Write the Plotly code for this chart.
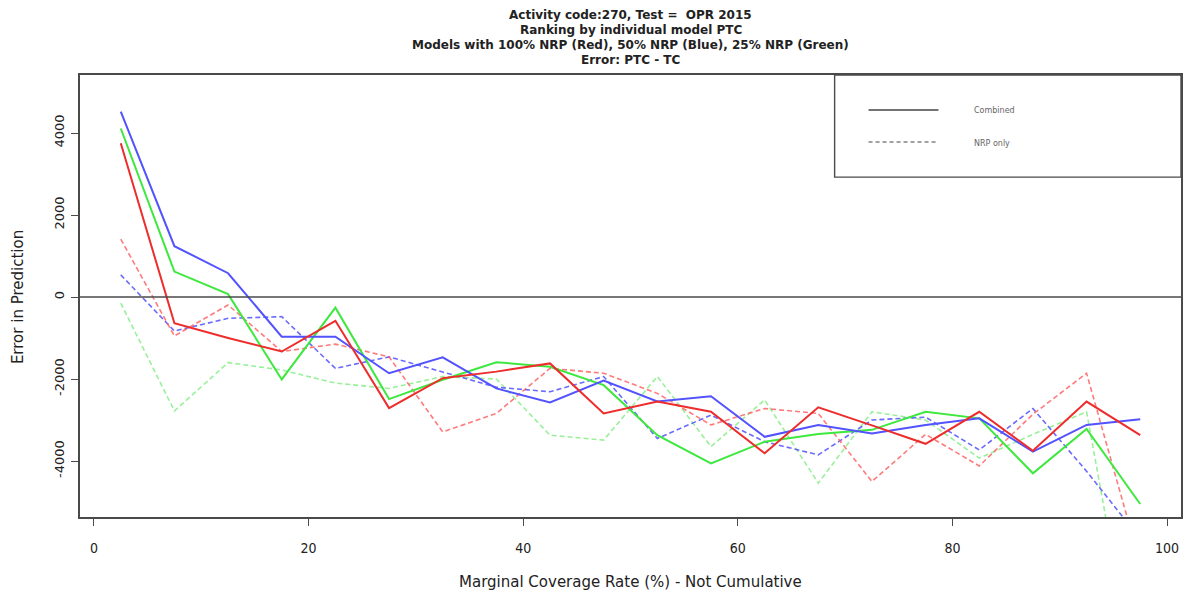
import plotly.graph_objects as go

# Marginal coverage bins (midpoints, %)
coverage = [2.5, 7.5, 12.5, 17.5, 22.5, 27.5, 32.5, 37.5, 42.5, 47.5,
            52.5, 57.5, 62.5, 67.5, 72.5, 77.5, 82.5, 87.5, 92.5, 97.5]

# Error in prediction (PTC - TC), combined models
combined_100 = [3750, -640, -1000, -1330, -580, -2710, -1980, -1820, -1620, -2840,
                -2550, -2800, -3810, -2690, -3130, -3580, -2800, -3750, -2550, -3370]
combined_50 = [4520, 1240, 580, -970, -970, -1860, -1470, -2230, -2570, -2040,
               -2550, -2420, -3410, -3120, -3330, -3120, -2960, -3770, -3120, -2980]
combined_25 = [4110, 620, 70, -2010, -260, -2490, -2020, -1590, -1700, -2150,
               -3370, -4060, -3530, -3340, -3240, -2800, -2960, -4300, -3220, -5050]

# Error in prediction (PTC - TC), NRP-only models
nrp_100 = [1410, -950, -195, -1330, -1150, -1460, -3290, -2840, -1740, -1860,
           -2350, -3120, -2720, -2840, -4500, -3350, -4120, -2860, -1860, -6500]
nrp_50 = [540, -830, -520, -480, -1740, -1460, -1830, -2200, -2310, -1940,
          -3450, -2880, -3530, -3850, -3000, -2930, -3730, -2720, -4250, -5900]
nrp_25 = [-150, -2780, -1600, -1780, -2100, -2230, -1940, -2000, -3370, -3490,
          -1940, -3650, -2510, -4540, -2800, -3000, -3930, -3350, -2800, -10000]

x_ticks = [0, 20, 40, 60, 80, 100]
y_ticks = [-4000, -2000, 0, 2000, 4000]

title_lines = [
    "Activity code:270, Test =  OPR 2015",
    "Ranking by individual model PTC",
    "Models with 100% NRP (Red), 50% NRP (Blue), 25% NRP (Green)",
    "Error: PTC - TC",
]

FRAME = "#4a4a4a"
TEXT = "#222222"

fig = go.Figure()

series = [
    (nrp_25, "rgba(120,235,120,0.75)", "dash"),
    (nrp_50, "rgba(80,80,255,0.85)", "dash"),
    (nrp_100, "rgba(255,90,90,0.8)", "dash"),
    (combined_25, "#3ee83e", "solid"),
    (combined_50, "#5252ff", "solid"),
    (combined_100, "#ee2c2c", "solid"),
]
for values, color, style in series:
    fig.add_trace(go.Scatter(
        x=coverage, y=values, mode="lines",
        line=dict(color=color, width=1.6 if style == "dash" else 2,
                  dash="5px,3px" if style == "dash" else "solid"),
        showlegend=False, hoverinfo="skip", cliponaxis=True,
    ))

shapes = [
    # zero reference line
    dict(type="line", xref="paper", yref="y", x0=0, x1=1, y0=0, y1=0,
         line=dict(color=FRAME, width=1.6), layer="above"),
    # legend box
    dict(type="rect", xref="paper", yref="paper", x0=0.6854, x1=1, y0=0.769, y1=1,
         line=dict(color=FRAME, width=1.4), fillcolor="white", layer="above"),
    dict(type="line", xref="paper", yref="paper", x0=0.7162, x1=0.7797,
         y0=0.9208, y1=0.9208, line=dict(color="#444", width=1.6), layer="above"),
    dict(type="line", xref="paper", yref="paper", x0=0.7162, x1=0.7797,
         y0=0.8484, y1=0.8484, line=dict(color="#444", width=1.2, dash="4px,3px"),
         layer="above"),
]

annotations = []
for i, line in enumerate(title_lines):
    py = 15 + 15 * i
    annotations.append(dict(
        text="<b>" + line + "</b>", xref="paper", yref="paper",
        x=0.5, y=1 + (75 - py) / 442, xanchor="center", yanchor="middle",
        showarrow=False, font=dict(family="DejaVu Sans", size=12, color=TEXT),
    ))
for label, py in [("Combined", 110), ("NRP only", 143)]:
    annotations.append(dict(
        text=label, xref="paper", yref="paper", x=0.8105, y=(517 - py) / 442,
        xanchor="left", yanchor="middle", showarrow=False,
        font=dict(family="DejaVu Sans", size=8, color="#666"),
    ))
annotations.append(dict(
    text="Marginal Coverage Rate (%) - Not Cumulative", xref="paper", yref="paper",
    x=0.5, y=(517 - 582) / 442, xanchor="center", yanchor="middle", showarrow=False,
    font=dict(family="DejaVu Sans", size=15, color=TEXT),
))
annotations.append(dict(
    text="Error in Prediction", xref="paper", yref="paper",
    x=(18 - 80) / 1103, y=(517 - 297) / 442, xanchor="center", yanchor="middle",
    textangle=-90, showarrow=False,
    font=dict(family="DejaVu Sans", size=15, color=TEXT),
))

fig.update_layout(
    width=1190, height=596,
    margin=dict(l=80, r=7, t=75, b=79),
    paper_bgcolor="white", plot_bgcolor="white",
    shapes=shapes, annotations=annotations,
    xaxis=dict(
        range=[-1.3, 101.3], tickvals=x_ticks, ticktext=[str(v) for v in x_ticks],
        showgrid=False, zeroline=False, showline=True, mirror=True,
        linecolor=FRAME, linewidth=1.6, ticks="outside", ticklen=7,
        tickcolor=FRAME, tickwidth=1.2, ticklabelstandoff=10,
        tickfont=dict(family="DejaVu Sans Condensed, DejaVu Sans", size=14, color=TEXT),
    ),
    yaxis=dict(
        range=[-5366, 5415], tickvals=y_ticks, ticktext=[str(v) for v in y_ticks],
        showgrid=False, zeroline=False, showline=True, mirror=True,
        linecolor=FRAME, linewidth=1.6, ticks="outside", ticklen=7,
        tickcolor=FRAME, tickwidth=1.2, tickangle=-90, ticklabelstandoff=2,
        tickfont=dict(family="DejaVu Sans", size=13, color=TEXT),
    ),
)

fig.write_html("out.html")
